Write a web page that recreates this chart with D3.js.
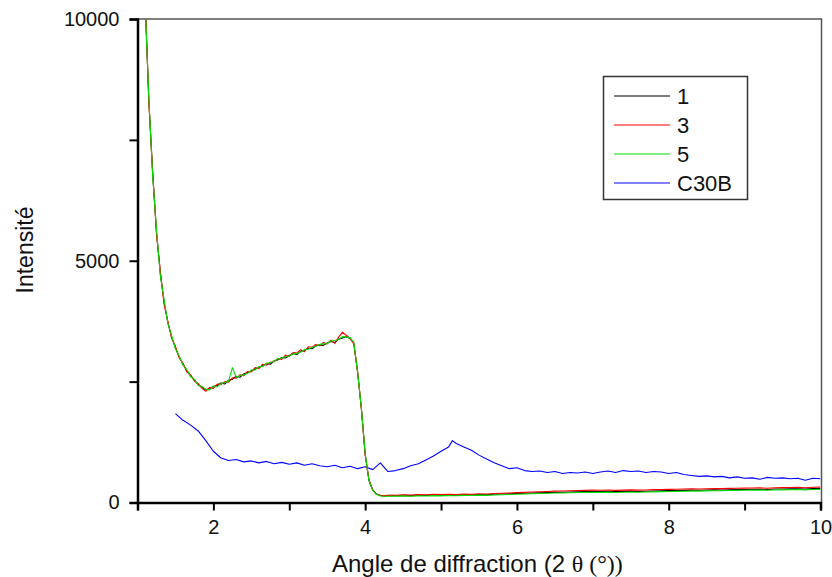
<!DOCTYPE html>
<html><head><meta charset="utf-8">
<script src="https://cdn.jsdelivr.net/npm/d3@7"></script>
<style>body{margin:0;background:#fff}svg{display:block}</style>
</head><body>
<script>
const angles = [1.10,1.15,1.20,1.25,1.30,1.35,1.40,1.45,1.50,1.55,1.60,1.65,1.70,1.75,1.80,1.85,1.90,1.95,2.00,2.05,2.10,2.15,2.20,2.25,2.30,2.35,2.40,2.45,2.50,2.55,2.60,2.65,2.70,2.75,2.80,2.85,2.90,2.95,3.00,3.05,3.10,3.15,3.20,3.25,3.30,3.35,3.40,3.45,3.50,3.55,3.60,3.65,3.70,3.75,3.80,3.85,3.90,3.95,4.00,4.05,4.10,4.15,4.20,4.25,4.30,4.35,4.40,
4.5,4.6,4.7,4.8,4.9,5.0,5.1,5.2,5.3,5.4,5.5,5.6,5.7,5.8,5.9,6.0,6.1,6.2,6.3,6.4,6.5,6.6,6.7,6.8,6.9,7.0,7.1,7.2,7.3,7.4,7.5,7.6,7.7,7.8,7.9,8.0,8.1,8.2,8.3,8.4,8.5,8.6,8.7,8.8,8.9,9.0,9.1,9.2,9.3,9.4,9.5,9.6,9.7,9.8,9.9,10.0];
const series1 = [10400,8300,6800,5600,4750,4150,3720,3420,3200,3010,2860,2730,2620,2530,2440,2380,2330,2350,2400,2420,2470,2450,2530,2550,2610,2590,2660,2690,2720,2760,2790,2830,2870,2860,2930,2950,3000,2990,3040,3080,3060,3130,3150,3190,3180,3240,3260,3250,3300,3330,3310,3380,3400,3430,3390,3300,2700,1950,1000,460,260,175,145,138,140,146,139,
148,142,150,146,155,150,158,152,160,156,165,160,170,175,180,185,190,195,200,205,210,212,218,222,225,230,228,232,226,230,235,228,232,238,240,245,248,250,255,252,258,262,260,265,268,270,272,275,270,278,280,282,285,280,288,290];
const series3 = [10450,8250,6850,5550,4800,4100,3750,3400,3230,2990,2880,2700,2640,2510,2460,2360,2300,2380,2360,2450,2440,2500,2490,2580,2570,2640,2620,2710,2700,2790,2770,2860,2840,2900,2910,2980,2960,3050,3020,3100,3090,3160,3120,3220,3210,3270,3240,3310,3280,3360,3290,3420,3520,3460,3400,3280,2720,1930,980,470,255,170,150,142,150,155,148,
158,152,162,158,168,162,170,166,175,170,180,176,186,192,198,205,210,216,222,228,235,238,242,248,250,255,252,258,250,256,262,255,260,266,270,272,275,280,282,278,285,288,286,292,295,298,300,302,296,305,308,310,312,306,314,318];
const series5 = [10350,8350,6750,5650,4700,4200,3700,3450,3180,3030,2840,2750,2600,2550,2420,2400,2340,2330,2410,2390,2460,2480,2510,2790,2590,2620,2640,2670,2740,2740,2810,2810,2880,2890,2920,2970,2990,3020,3030,3070,3080,3110,3160,3170,3210,3230,3270,3280,3290,3340,3350,3370,3430,3420,3410,3310,2690,1960,1010,450,250,165,135,128,130,134,128,
136,130,138,134,142,138,146,140,148,144,152,148,156,160,166,170,175,180,185,190,195,198,202,206,210,212,210,214,208,212,218,212,216,220,224,228,230,234,238,236,240,244,242,248,250,252,255,258,254,260,262,265,268,262,270,272];
const anglesC30B = [1.5,1.6,1.7,1.8,1.9,2.0,2.1,2.2,2.3,2.4,2.5,2.6,2.7,2.8,2.9,3.0,3.1,3.2,3.3,3.4,3.5,3.6,3.7,3.8,3.9,4.0,4.1,4.2,4.3,4.4,4.5,4.6,4.7,4.8,4.9,5.0,5.1,5.15,5.2,5.3,5.4,5.5,5.6,5.7,5.8,5.9,6.0,6.1,6.2,6.3,6.4,6.5,6.6,6.7,6.8,6.9,7.0,7.1,7.2,7.3,7.4,7.5,7.6,7.7,7.8,7.9,8.0,8.1,8.2,8.3,8.4,8.5,8.6,8.7,8.8,8.9,9.0,9.1,9.2,9.3,9.4,9.5,9.6,9.7,9.8,9.9,10.0];
const valuesC30B = [1840,1700,1600,1480,1280,1060,920,870,890,840,860,820,850,800,830,790,820,770,800,760,740,770,720,750,700,740,680,820,640,660,700,760,800,880,960,1060,1150,1280,1220,1150,1080,980,900,820,760,700,720,660,640,650,620,640,600,620,610,630,600,630,650,620,660,640,650,620,640,630,600,620,580,560,540,550,530,540,510,530,500,510,480,520,500,510,490,500,460,500,490];
const seriesNames = ["1","3","5","C30B"];
const seriesColors = ["#000000","#ff0000","#00e000","#0000ff"];
const xTicks = [2,4,6,8,10];
const xMinorTicks = [1,3,5,7,9];
const yTicks = [0,5000,10000];
const yMinorTicks = [2500,7500];

const W = 832, H = 577;
const x0 = 137.5, x1 = 820.5, y0 = 502.5, y1 = 19;

const svg = d3.select("body").append("svg").attr("width", W).attr("height", H)
  .style("font-family", "Arial, 'Liberation Sans', sans-serif");

const x = d3.scaleLinear().domain([1,10]).range([x0, x1]);
const y = d3.scaleLinear().domain([0,10000]).range([y0, y1]);

svg.append("defs").append("clipPath").attr("id","clip")
  .append("rect").attr("x", x0).attr("y", y1).attr("width", x1-x0).attr("height", y0-y1);

svg.append("path").attr("d", `M${x0},${y1}H${x1+1}V${y0}`).attr("fill","none")
  .attr("stroke","#555").attr("stroke-width",1.5);

const g = svg.append("g").attr("clip-path","url(#clip)");
const line = d3.line().x(d => x(d[0])).y(d => y(d[1]));
const data = [
  angles.map((a,i) => [a, series1[i]]),
  angles.map((a,i) => [a, series3[i]]),
  angles.map((a,i) => [a, series5[i]]),
  anglesC30B.map((a,i) => [a, valuesC30B[i]])
];
[3,0,1,2].forEach(k => {
  g.append("path").datum(data[k]).attr("d", line).attr("fill","none")
    .attr("stroke", seriesColors[k]).attr("stroke-width", 1.1).attr("stroke-linejoin","round");
});

const xAxis = svg.append("g").attr("transform", `translate(0,${y0})`)
  .call(d3.axisBottom(x).tickValues(xTicks).tickSize(8).tickPadding(6).tickFormat(d3.format("d")));
svg.append("g").attr("transform", `translate(0,${y0})`)
  .call(d3.axisBottom(x).tickValues(xMinorTicks).tickSize(8).tickFormat(""))
  .call(a => a.select(".domain").remove());
const yAxis = svg.append("g").attr("transform", `translate(${x0},0)`)
  .call(d3.axisLeft(y).tickValues(yTicks).tickSize(8).tickPadding(10).tickFormat(d3.format("d")));
svg.append("g").attr("transform", `translate(${x0},0)`)
  .call(d3.axisLeft(y).tickValues(yMinorTicks).tickSize(8).tickFormat(""))
  .call(a => a.select(".domain").remove());
svg.selectAll(".domain").attr("stroke","#000").attr("stroke-width",2.5);
svg.selectAll(".tick line").attr("stroke","#000").attr("stroke-width",2);
svg.selectAll(".tick text").attr("font-size",20).attr("fill","#111")
  .attr("font-family","Arial, 'Liberation Sans', sans-serif");
xAxis.selectAll(".tick text").attr("dy","0.85em");

const xt = svg.append("text").attr("x", 332).attr("y", 572).attr("font-size", 24).attr("fill","#111");
xt.append("tspan").text("Angle de diffraction (2 ");
xt.append("tspan").attr("font-family","'Liberation Serif', 'Times New Roman', serif").attr("font-size",24).text("θ (°))");

svg.append("text").attr("transform","translate(33,250) rotate(-90)").attr("text-anchor","middle")
  .attr("font-size",23).attr("fill","#111").text("Intensité");

const lg = svg.append("g");
lg.append("rect").attr("x",603.5).attr("y",76.5).attr("width",144).attr("height",123)
  .attr("fill","#fff").attr("stroke","#333").attr("stroke-width",1.5);
seriesNames.forEach((n,i) => {
  const yy = 96 + i*29;
  lg.append("line").attr("x1",614).attr("x2",670).attr("y1",yy).attr("y2",yy)
    .attr("stroke", seriesColors[i]).attr("stroke-width",1.2);
  lg.append("text").attr("x",677).attr("y",yy+8).attr("font-size",22).attr("fill","#111").text(n);
});
</script>
</body></html>
